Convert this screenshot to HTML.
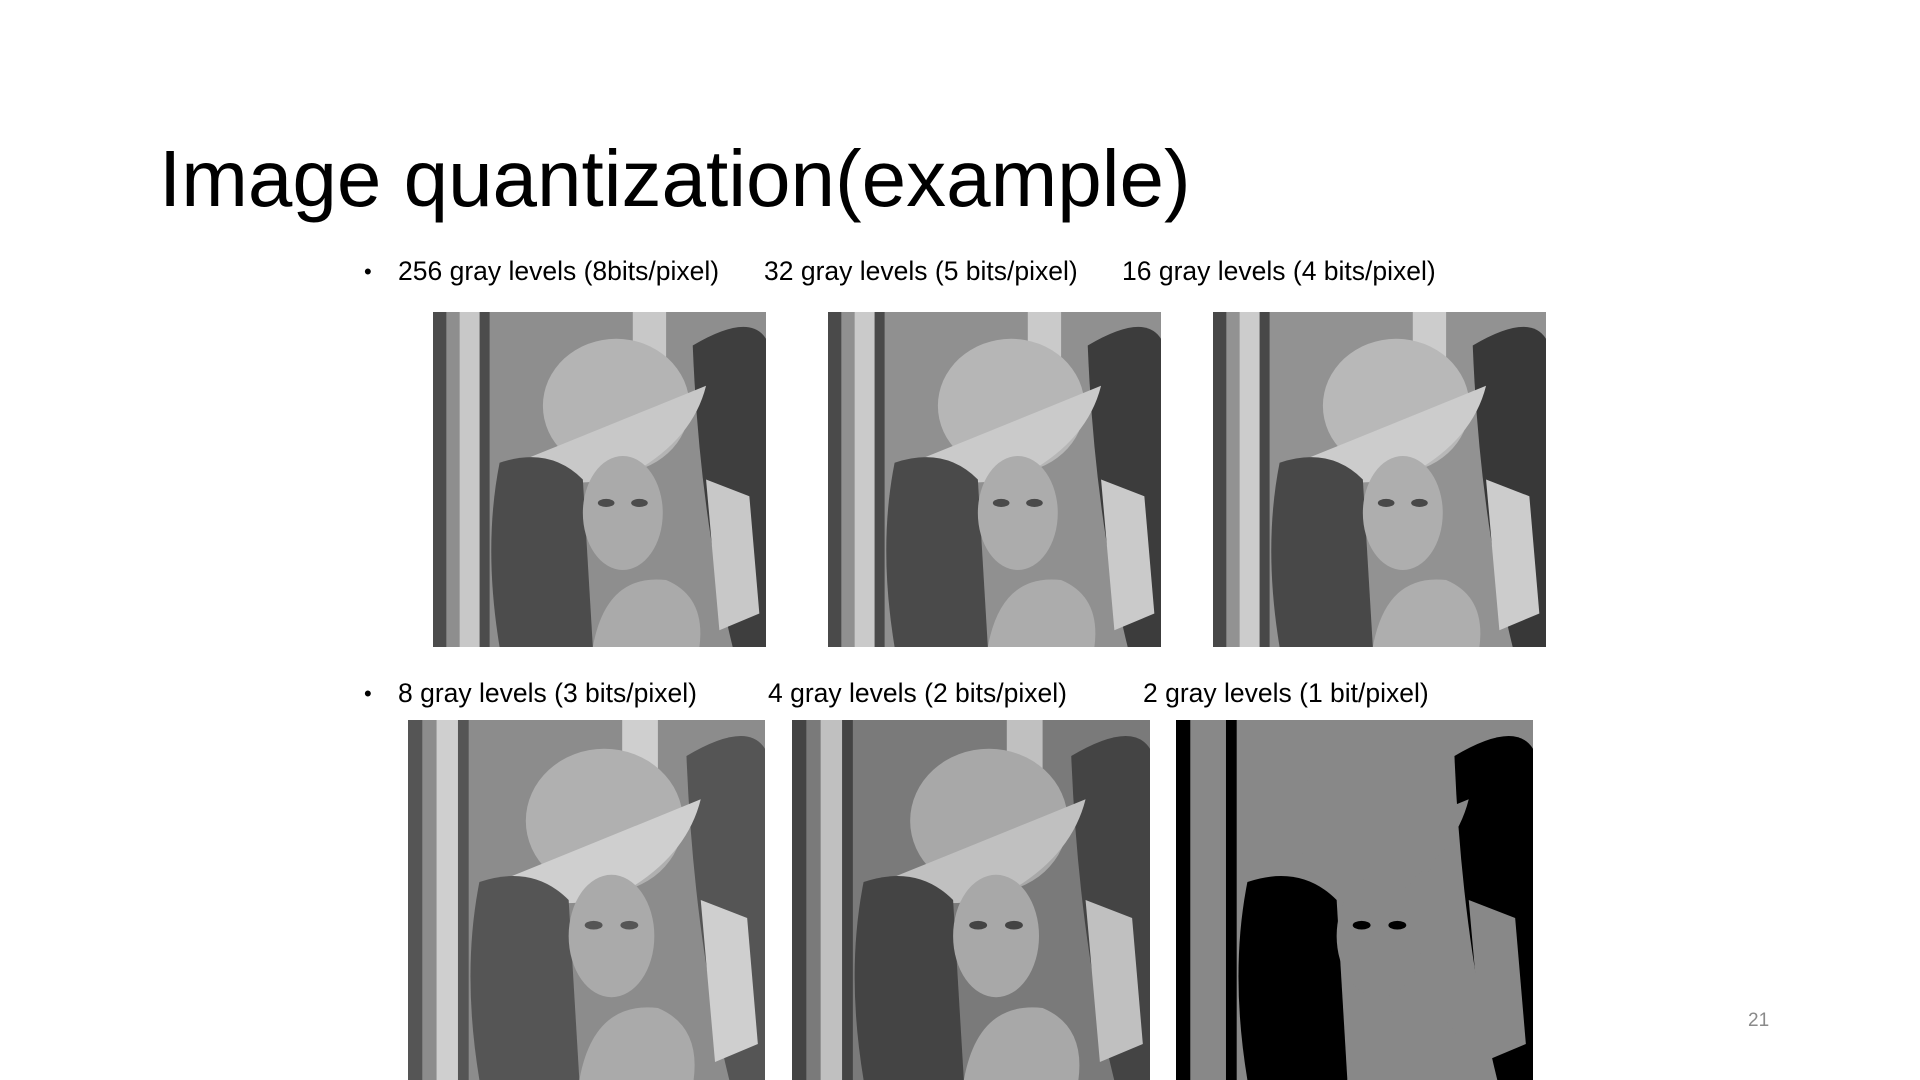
<!DOCTYPE html>
<html><head><meta charset="utf-8"><style>
html,body{margin:0;padding:0;background:#fff;}
#slide{position:relative;width:1920px;height:1080px;overflow:hidden;background:#fff;font-family:"Liberation Sans",sans-serif;color:#000;}
.title{position:absolute;left:159px;top:133px;font-size:80px;font-weight:normal;white-space:nowrap;}
.lbl{position:absolute;font-size:26.5px;white-space:nowrap;}
.bullet{position:absolute;font-size:22px;}
.img{position:absolute;}
.pg{position:absolute;left:1748px;top:1010px;font-size:19px;color:#8a8a8a;}
</style></head><body>
<div id="slide">
<div class="title">Image quantization(example)</div>
<div class="bullet" style="left:364px;top:259px">•</div>
<div class="lbl" style="left:398px;top:256px">256 gray levels (8bits/pixel)</div>
<div class="lbl" style="left:764px;top:256px">32 gray levels (5 bits/pixel)</div>
<div class="lbl" style="left:1122px;top:256px">16 gray levels (4 bits/pixel)</div>
<div class="bullet" style="left:364px;top:681px">•</div>
<div class="lbl" style="left:398px;top:678px">8 gray levels (3 bits/pixel)</div>
<div class="lbl" style="left:768px;top:678px">4 gray levels (2 bits/pixel)</div>
<div class="lbl" style="left:1143px;top:678px">2 gray levels (1 bit/pixel)</div>
<div class="pg">21</div>
</div>
<script>
const imgs=[
 {n:'image-256-levels',x:433,y:312,w:333,h:335,c:['#8e8e8e','#b4b4b4','#4c4c4c','#aaaaaa','#3e3e3e','#c8c8c8']},
 {n:'image-32-levels',x:828,y:312,w:333,h:335,c:['#909090','#b6b6b6','#4a4a4a','#acacac','#3c3c3c','#cacaca']},
 {n:'image-16-levels',x:1213,y:312,w:333,h:335,c:['#929292','#b8b8b8','#484848','#aeaeae','#383838','#cccccc']},
 {n:'image-8-levels',x:408,y:720,w:357,h:360,c:['#8c8c8c','#b0b0b0','#555555','#aaaaaa','#555555','#cfcfcf']},
 {n:'image-4-levels',x:792,y:720,w:358,h:360,c:['#7a7a7a','#a8a8a8','#444444','#a8a8a8','#444444','#c0c0c0']},
 {n:'image-2-levels',x:1176,y:720,w:357,h:360,c:['#888888','#888888','#000000','#888888','#000000','#888888']}
];
const slide=document.getElementById('slide');
imgs.forEach(m=>{
 const [bg,hat,dark,face,arc,light]=m.c;
 const d=document.createElement('div');
 d.className='img';
 d.style.cssText=`left:${m.x}px;top:${m.y}px;width:${m.w}px;height:${m.h}px;`;
 
 
 d.innerHTML=`<svg width="${m.w}" height="${m.h}" viewBox="0 0 100 100" preserveAspectRatio="none">
 <rect width="100" height="100" fill="${bg}"/>
 <rect x="0" y="0" width="4" height="100" fill="${dark}"/>
 <rect x="8" y="0" width="6" height="100" fill="${light}"/>
 <rect x="14" y="0" width="3" height="100" fill="${dark}"/>
 <rect x="60" y="0" width="10" height="30" fill="${light}"/>
 <path d="M78 10 Q95 0 100 8 L100 100 L90 100 Q80 60 78 10Z" fill="${arc}"/>
 <path d="M82 50 L95 55 L98 90 L86 95Z" fill="${light}"/>
 <ellipse cx="55" cy="28" rx="22" ry="20" fill="${hat}"/>
 <path d="M25 45 Q50 35 82 22 Q78 38 60 48 Q40 55 25 45Z" fill="${light}"/>
 <path d="M20 45 Q35 40 45 50 L48 100 L20 100 Q15 70 20 45Z" fill="${dark}"/>
 <ellipse cx="57" cy="60" rx="12" ry="17" fill="${face}"/>
 <path d="M48 100 Q52 78 70 80 Q82 85 80 100Z" fill="${face}"/>
 <ellipse cx="52" cy="57" rx="2.5" ry="1.2" fill="${dark}"/>
 <ellipse cx="62" cy="57" rx="2.5" ry="1.2" fill="${dark}"/>
 </svg>`;
 slide.appendChild(d);
});
</script>
</body></html>
